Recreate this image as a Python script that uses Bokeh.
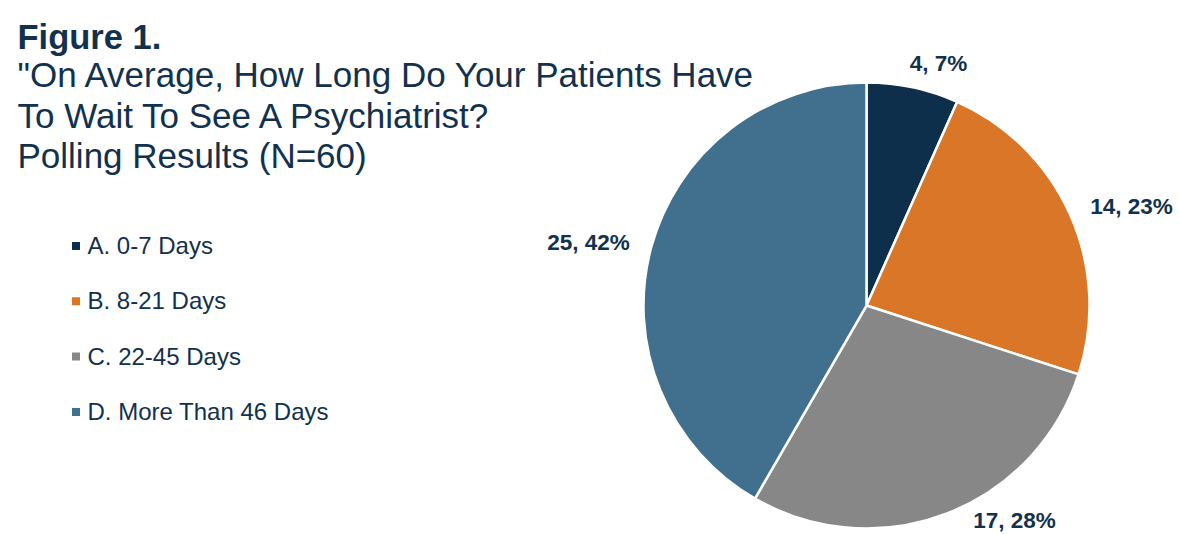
import numpy as np
from bokeh.plotting import figure
from bokeh.models import Range1d, ColumnDataSource
from bokeh.core.properties import value
from bokeh.embed import file_html
from bokeh.resources import INLINE

# ---- data ----
categories = ["A. 0-7 Days", "B. 8-21 Days", "C. 22-45 Days", "D. More Than 46 Days"]
counts = [4, 14, 17, 25]
percents = [7, 23, 28, 42]
colors = ["#0E2F4B", "#D97628", "#878787", "#41708F"]
title_bold = "Figure 1."
title_lines = ['"On Average, How Long Do Your Patients Have',
               "To Wait To See A Psychiatrist?",
               "Polling Results (N=60)"]

# ---- layout (page pixel coordinates; y data = H - pixel y) ----
W, H = 1179, 534
TEXT = "#12314D"
FONT = "Liberation Sans"

p = figure(width=W, height=H, output_backend="svg", toolbar_location=None,
           x_range=Range1d(0, W), y_range=Range1d(0, H),
           min_border=0)
p.axis.visible = False
p.grid.visible = False
p.outline_line_color = None
p.background_fill_color = "white"
p.border_fill_color = "white"

def Y(py):
    return H - py

def TB(py, fs):
    # baseline correction for rendered alphabetic text
    return Y(py - 0.33 * fs)

# pie
cx, cy, R = 866, Y(305), 223
vals = np.array(counts, dtype=float)
frac = vals / vals.sum()
cum = np.concatenate([[0], np.cumsum(frac)])
start = np.pi / 2 - cum[:-1] * 2 * np.pi
end = np.pi / 2 - cum[1:] * 2 * np.pi
src = ColumnDataSource(dict(start=start, end=end, color=colors))
p.wedge(x=cx, y=cy, radius=R, start_angle="start", end_angle="end",
        direction="clock", fill_color="color", line_color="white", line_width=2.5,
        source=src)

# data labels (offsets from pie centre in pixels, baseline alphabetic)
LFS = 22.5
label_offsets = [(72, -235), (265, -92), (148, 222), (-278, -56)]
lx = [cx + o[0] for o in label_offsets]
ly = [TB(305 + o[1], LFS) for o in label_offsets]
labels = [f"{c}, {pc}%" for c, pc in zip(counts, percents)]
p.text(x=lx, y=ly, text=labels, text_align="center", text_baseline="alphabetic",
       text_font=value(FONT), text_font_style="bold", text_font_size=f"{LFS}px",
       text_color=TEXT)

# title
p.text(x=[17], y=[TB(48, 34.5)], text=[title_bold], text_font=value(FONT),
       text_font_style="bold", text_font_size="34.5px", text_color=TEXT,
       text_baseline="alphabetic")
TFS = 35
p.text(x=[17] * 3, y=[TB(86, TFS), TB(126.5, TFS), TB(166.5, TFS)], text=title_lines,
       text_font=value(FONT), text_font_size=f"{TFS}px", text_color=TEXT,
       text_baseline="alphabetic")

# legend
GFS = 24
leg_base = [253, 308.3, 363.6, 419]
p.scatter(x=[75.5] * 4, y=[Y(b - 7.5) for b in leg_base], marker="square", size=8,
          fill_color=colors, line_color=None)
p.text(x=[87] * 4, y=[TB(b, GFS) for b in leg_base], text=categories,
       text_font=value(FONT), text_font_size=f"{GFS}px", text_color=TEXT,
       text_baseline="alphabetic")

open("out.html", "w").write(file_html(p, INLINE))
